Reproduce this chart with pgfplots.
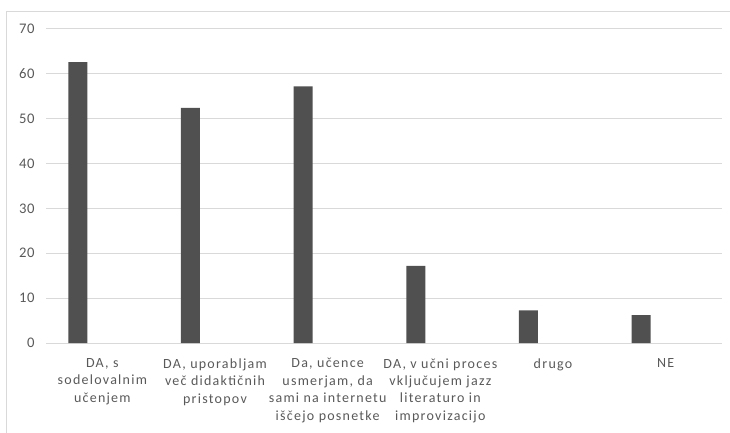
\documentclass[border=0pt]{standalone}
\usepackage{fontspec}
\setmainfont{Carlito}
\newfontfamily\lblfont[LetterSpace=9]{Carlito}
\newfontfamily\tickfont[LetterSpace=5]{Carlito}
\usepackage{pgfplots}
\pgfplotsset{compat=1.18}
\definecolor{bargray}{HTML}{505050}
\definecolor{gridgray}{HTML}{D9D9D9}
\definecolor{txtgray}{HTML}{595959}
\begin{document}
\begin{tikzpicture}
\path[use as bounding box] (0,0) rectangle (547.5pt,324pt);
\draw[gridgray, line width=0.75pt] (4.5pt,-2pt) -- (4.5pt,315pt) -- (550pt,315pt);
\begin{axis}[
  at={(34.5pt,66.75pt)}, anchor=south west,
  scale only axis, width=507pt, height=235.5pt,
  ymin=0, ymax=70, ytick={0,10,...,70},
  xmin=-0.5, xmax=5.5, xtick={0,1,2,3,4,5},
  xticklabels={{DA, s\\sodelovalnim\\učenjem},{DA, uporabljam\\več didaktičnih\\pristopov},{Da, učence\\usmerjam, da\\sami na internetu\\iščejo posnetke},{DA, v učni proces\\vključujem jazz\\literaturo in\\improvizacijo},{drugo},{NE}},
  axis line style={draw=none},
  major tick length=0pt,
  ymajorgrids, grid style={gridgray, line width=0.75pt},
  /pgf/number format/assume math mode=true,
  yticklabel style={font=\tickfont\fontsize{11}{13}\selectfont, text=txtgray, anchor=east, xshift=-5pt},
  xticklabel style={font=\lblfont\fontsize{10.5}{13.1}\selectfont, text=txtgray, align=center, anchor=north, yshift=-8pt},
  clip=false,
]
\addplot[ybar, fill=bargray, draw=none, bar width=14.25pt, bar shift=-18.4pt] coordinates {
  (0,62.6) (1,52.4) (2,57.2) (3,17.2) (4,7.3) (5,6.2)
};
\end{axis}
\end{tikzpicture}
\end{document}
